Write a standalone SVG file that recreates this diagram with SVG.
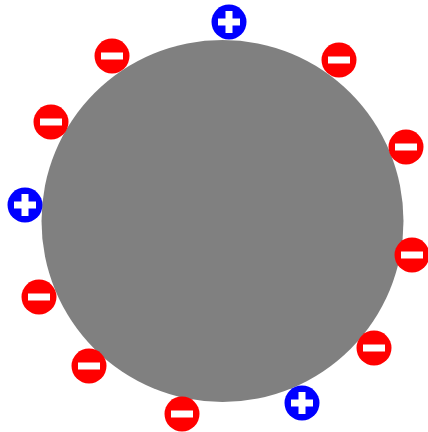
<svg xmlns="http://www.w3.org/2000/svg" width="428" height="432" viewBox="0 0 428 432">
<defs>
<style>
.neg circle{fill:#ff0000}
.pos circle{fill:#0000ff}
.sign{fill:#ffffff}
</style>
<g id="minus"><circle r="17.5" fill="#ff0000"/><rect class="sign" x="-11" y="-3.5" width="22" height="7"/></g>
<g id="plus"><circle r="17.5" fill="#0000ff"/><rect class="sign" x="-11" y="-3.5" width="22" height="7"/><rect class="sign" x="-3.5" y="-11" width="7" height="22"/></g>
</defs>
<g id="sphere"><circle cx="222.5" cy="221" r="181" fill="#808080"/></g>
<g id="charges">
<g id="p1"><use href="#plus" x="229" y="22"/></g>
<g id="m1"><use href="#minus" x="112" y="56"/></g>
<g id="m2"><use href="#minus" x="339" y="60"/></g>
<g id="m3"><use href="#minus" x="51" y="122"/></g>
<g id="m4"><use href="#minus" x="406" y="147"/></g>
<g id="p2"><use href="#plus" x="25" y="205"/></g>
<g id="m5"><use href="#minus" x="412" y="255"/></g>
<g id="m6"><use href="#minus" x="39" y="297"/></g>
<g id="m7"><use href="#minus" x="374" y="348"/></g>
<g id="m8"><use href="#minus" x="89" y="366"/></g>
<g id="p3"><use href="#plus" x="302" y="403"/></g>
<g id="m9"><use href="#minus" x="182" y="414"/></g>
</g>
</svg>
